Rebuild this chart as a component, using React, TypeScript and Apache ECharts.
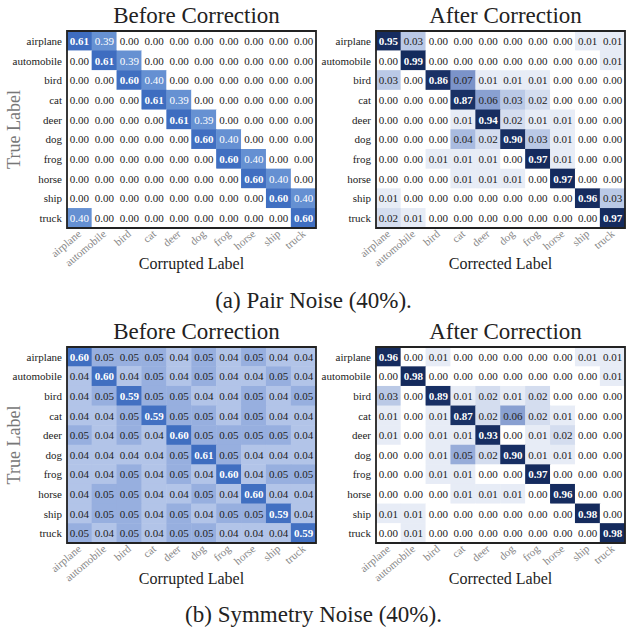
import React, { useEffect, useRef } from "react";
import * as echarts from "echarts";

const classes = ["airplane", "automobile", "bird", "cat", "deer", "dog", "frog", "horse", "ship", "truck"];

const pairBefore = [
  [0.61, 0.39, 0, 0, 0, 0, 0, 0, 0, 0],
  [0, 0.61, 0.39, 0, 0, 0, 0, 0, 0, 0],
  [0, 0, 0.60, 0.40, 0, 0, 0, 0, 0, 0],
  [0, 0, 0, 0.61, 0.39, 0, 0, 0, 0, 0],
  [0, 0, 0, 0, 0.61, 0.39, 0, 0, 0, 0],
  [0, 0, 0, 0, 0, 0.60, 0.40, 0, 0, 0],
  [0, 0, 0, 0, 0, 0, 0.60, 0.40, 0, 0],
  [0, 0, 0, 0, 0, 0, 0, 0.60, 0.40, 0],
  [0, 0, 0, 0, 0, 0, 0, 0, 0.60, 0.40],
  [0.40, 0, 0, 0, 0, 0, 0, 0, 0, 0.60],
];

const pairAfter = [
  [0.95, 0.03, 0, 0, 0, 0, 0, 0, 0.01, 0.01],
  [0, 0.99, 0, 0, 0, 0, 0, 0, 0, 0.01],
  [0.03, 0, 0.86, 0.07, 0.01, 0.01, 0.01, 0, 0, 0],
  [0, 0, 0, 0.87, 0.06, 0.03, 0.02, 0, 0, 0],
  [0, 0, 0, 0.01, 0.94, 0.02, 0.01, 0.01, 0, 0],
  [0, 0, 0, 0.04, 0.02, 0.90, 0.03, 0.01, 0, 0],
  [0, 0, 0.01, 0.01, 0.01, 0, 0.97, 0.01, 0, 0],
  [0, 0, 0, 0.01, 0.01, 0.01, 0, 0.97, 0, 0],
  [0.01, 0, 0, 0, 0, 0, 0, 0, 0.96, 0.03],
  [0.02, 0.01, 0, 0, 0, 0, 0, 0, 0, 0.97],
];

const symBefore = [
  [0.60, 0.05, 0.05, 0.05, 0.04, 0.05, 0.04, 0.05, 0.04, 0.04],
  [0.04, 0.60, 0.04, 0.05, 0.04, 0.05, 0.04, 0.04, 0.05, 0.04],
  [0.04, 0.05, 0.59, 0.05, 0.05, 0.04, 0.04, 0.05, 0.04, 0.05],
  [0.04, 0.04, 0.05, 0.59, 0.05, 0.05, 0.04, 0.05, 0.04, 0.04],
  [0.05, 0.04, 0.05, 0.04, 0.60, 0.05, 0.05, 0.05, 0.05, 0.04],
  [0.04, 0.04, 0.04, 0.04, 0.05, 0.61, 0.05, 0.04, 0.04, 0.04],
  [0.04, 0.04, 0.05, 0.04, 0.05, 0.04, 0.60, 0.04, 0.05, 0.05],
  [0.04, 0.05, 0.05, 0.04, 0.04, 0.05, 0.04, 0.60, 0.04, 0.04],
  [0.04, 0.05, 0.05, 0.04, 0.05, 0.04, 0.05, 0.05, 0.59, 0.04],
  [0.05, 0.04, 0.05, 0.04, 0.05, 0.05, 0.04, 0.04, 0.04, 0.59],
];

const symAfter = [
  [0.96, 0, 0.01, 0, 0, 0, 0, 0, 0.01, 0.01],
  [0, 0.98, 0, 0, 0, 0, 0, 0, 0, 0.01],
  [0.03, 0, 0.89, 0.01, 0.02, 0.01, 0.02, 0, 0, 0],
  [0.01, 0, 0.01, 0.87, 0.02, 0.06, 0.02, 0.01, 0, 0],
  [0.01, 0, 0.01, 0.01, 0.93, 0, 0.01, 0.02, 0, 0],
  [0, 0, 0.01, 0.05, 0.02, 0.90, 0.01, 0.01, 0, 0],
  [0, 0, 0.01, 0.01, 0, 0, 0.97, 0, 0, 0],
  [0, 0, 0, 0.01, 0.01, 0.01, 0, 0.96, 0, 0],
  [0.01, 0.01, 0, 0, 0, 0, 0, 0, 0.98, 0],
  [0, 0.01, 0, 0, 0, 0, 0, 0, 0, 0.98],
];

const panelTitles = ["Before Correction", "After Correction", "Before Correction", "After Correction"];
const xNames = ["Corrupted Label", "Corrected Label", "Corrupted Label", "Corrected Label"];
const captions = ["(a) Pair Noise (40%).", "(b) Symmetry Noise (40%)."];

// colour stops (value -> colour); mapped onto an even colour ramp
const beforeStops: [number, string][] = [
  [0, "#ffffff"], [0.04, "#b2c4e8"], [0.05, "#97afdf"], [0.4, "#6590d2"], [0.61, "#3e6dc0"],
];
const afterStops: [number, string][] = [
  [0, "#ffffff"], [0.01, "#e7ecf6"], [0.02, "#d4ddef"], [0.03, "#bac9e6"], [0.05, "#97acd9"],
  [0.07, "#7b93c9"], [0.3, "#2f4d8c"], [1, "#142a5c"],
];

// position of a value on the evenly spaced ramp of stops (0..1)
function rampPos(stops: [number, string][], v: number) {
  const n = stops.length - 1;
  if (v <= stops[0][0]) return 0;
  for (let i = 1; i <= n; i++) {
    if (v <= stops[i][0]) {
      const a = stops[i - 1][0];
      const b = stops[i][0];
      return (i - 1 + (v - a) / (b - a)) / n;
    }
  }
  return 1;
}

const FONT = "Liberation Serif";

export default function App() {
  const ref = useRef<HTMLDivElement>(null);
  useEffect(() => {
    document.body.style.margin = "0";
    const chart = echarts.init(ref.current!, undefined, { renderer: "svg" });
    const mats = [pairBefore, pairAfter, symBefore, symAfter];
    const stopsFor = [beforeStops, afterStops, beforeStops, afterStops];
    const grids = [
      { left: 67, top: 31, width: 249, height: 197 },
      { left: 376, top: 31, width: 249, height: 197 },
      { left: 67, top: 347, width: 249, height: 196 },
      { left: 376, top: 347, width: 249, height: 196 },
    ];
    const series = mats.map((m, p) => {
      const data: any[] = [];
      m.forEach((row, i) =>
        row.forEach((v, j) => {
          data.push({
            value: [j, i, v, rampPos(stopsFor[p], v)],
            label: {
              color: v > 0.3 ? "#ffffff" : "#222222",
              fontWeight: i === j ? "bold" : "normal",
              fontFamily: FONT,
            },
          });
        })
      );
      return {
        type: "heatmap",
        xAxisIndex: p,
        yAxisIndex: p,
        data,
        label: {
          show: true,
          fontFamily: FONT,
          fontSize: 11,
          formatter: (pr: any) => pr.value[2].toFixed(2),
        },
        emphasis: { disabled: true },
      };
    });
    const option: any = {
      animation: false,
      backgroundColor: "#ffffff",
      textStyle: { fontFamily: FONT },
      title: [
        ...panelTitles.map((t, p) => ({
          text: t,
          left: grids[p].left + grids[p].width / 2,
          textAlign: "center",
          top: p < 2 ? -1 : 315,
          textStyle: { fontFamily: FONT, fontSize: 23, fontWeight: "normal", color: "#222" },
        })),
        ...captions.map((t, k) => ({
          text: t,
          left: "center",
          top: k === 0 ? 284 : 598,
          textStyle: { fontFamily: FONT, fontSize: 23, fontWeight: "normal", color: "#222" },
        })),
      ],
      visualMap: [
        {
          show: false, type: "continuous", seriesIndex: [0, 2], dimension: 3, min: 0, max: 1,
          inRange: { color: beforeStops.map((s) => s[1]) },
        },
        {
          show: false, type: "continuous", seriesIndex: [1, 3], dimension: 3, min: 0, max: 1,
          inRange: { color: afterStops.map((s) => s[1]) },
        },
      ],
      grid: grids.map((g) => ({ ...g, show: false })),
      xAxis: grids.map((g, p) => ({
        type: "category",
        gridIndex: p,
        data: classes,
        name: xNames[p],
        nameLocation: "middle",
        nameGap: 27,
        nameMoveOverlap: false,
        nameTextStyle: { fontFamily: FONT, fontSize: 16, color: "#222" },
        axisLine: { show: false },
        axisTick: { show: false },
        splitLine: { show: false },
        axisLabel: { rotate: 40, fontFamily: FONT, fontSize: 11, color: "#888", margin: 4, interval: 0 },
      })),
      yAxis: grids.map((g, p) => ({
        type: "category",
        gridIndex: p,
        data: classes,
        inverse: true,
        name: p % 2 === 0 ? "True Label" : "",
        nameLocation: "middle",
        nameGap: 44,
        nameMoveOverlap: false,
        nameRotate: 90,
        nameTextStyle: { fontFamily: FONT, fontSize: 18, color: "#777" },
        axisLine: { show: false },
        axisTick: { show: false },
        splitLine: { show: false },
        axisLabel: { fontFamily: FONT, fontSize: 11, color: "#222", margin: 5, interval: 0 },
      })),
      series,
      graphic: grids.map((g) => ({
        type: "rect",
        z: 100,
        shape: { x: g.left, y: g.top, width: g.width, height: g.height },
        style: { fill: "none", stroke: "#222", lineWidth: 1.8 },
      })),
    };
    chart.setOption(option);
    return () => chart.dispose();
  }, []);
  return <div ref={ref} style={{ width: 627, height: 628 }} />;
}
